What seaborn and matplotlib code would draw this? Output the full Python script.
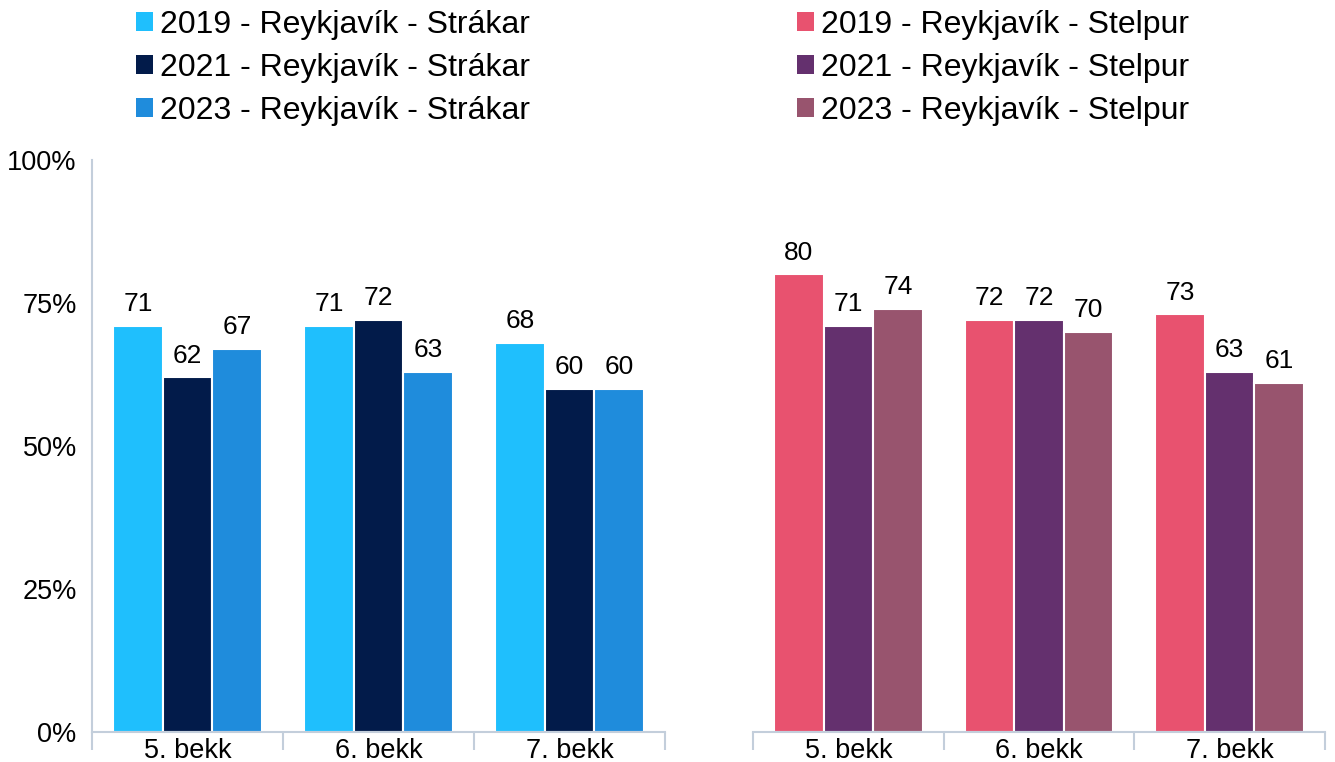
import pandas as pd
import numpy as np
import matplotlib.pyplot as plt
import seaborn as sns
from matplotlib.patches import Patch

bekkir = ['5. bekk', '6. bekk', '7. bekk']
ar = ['2019', '2021', '2023']

strakar_2019 = [71, 71, 68]
strakar_2021 = [62, 72, 60]
strakar_2023 = [67, 63, 60]

stelpur_2019 = [80, 72, 73]
stelpur_2021 = [71, 72, 63]
stelpur_2023 = [74, 70, 61]

litir_strakar = ['#1FBFFD', '#021B4A', '#1F8CDC']
litir_stelpur = ['#E8526F', '#64306E', '#98546E']

sns.set_theme(style='white')
plt.rcParams['font.family'] = ['Liberation Sans', 'DejaVu Sans']
plt.rcParams['text.color'] = 'black'

def long_df(vals):
    rows = []
    for a, v in zip(ar, vals):
        for b, x in zip(bekkir, v):
            rows.append({'bekkur': b, 'ar': a, 'gildi': x})
    return pd.DataFrame(rows)

df_strakar = long_df([strakar_2019, strakar_2021, strakar_2023])
df_stelpur = long_df([stelpur_2019, stelpur_2021, stelpur_2023])

fig = plt.figure(figsize=(13.35, 7.62), dpi=100)
ax1 = fig.add_axes([92 / 1335, 30 / 762, 573 / 1335, 572 / 762])
ax2 = fig.add_axes([753 / 1335, 30 / 762, 572 / 1335, 572 / 762])

gridcol = '#C3CEDB'
fs = 19.5

for ax, df, litir, kyn in [(ax1, df_strakar, litir_strakar, 'Strákar'),
                            (ax2, df_stelpur, litir_stelpur, 'Stelpur')]:
    sns.barplot(data=df, x='bekkur', y='gildi', hue='ar', palette=litir,
                width=0.78, edgecolor='white', linewidth=1.5, legend=False,
                saturation=1, ax=ax, errorbar=None)
    for c in ax.containers:
        ax.bar_label(c, fmt='{:.0f}', padding=7, fontsize=19, color='black')
    ax.set_xlim(-0.5, 2.5)
    ax.set_ylim(0, 100)
    ax.set_xlabel('')
    ax.set_ylabel('')
    ax.set_yticks([0, 25, 50, 75, 100])
    ax.set_yticklabels(['0%', '25%', '50%', '75%', '100%'])
    ax.set_xticks([-0.5, 0.5, 1.5, 2.5], minor=True)
    ax.tick_params(axis='x', which='minor', bottom=True, length=13, width=1.5, color=gridcol)
    ax.tick_params(axis='x', which='major', length=0, pad=4, labelsize=fs, labelcolor='black')
    ax.tick_params(axis='y', length=0, pad=11, labelsize=fs, labelcolor='black')
    for s in ['top', 'right']:
        ax.spines[s].set_visible(False)
    ax.spines['bottom'].set_color(gridcol)
    ax.spines['bottom'].set_linewidth(1.5)
    ax.spines['left'].set_color(gridcol)
    ax.spines['left'].set_linewidth(1.5)

    handles = [Patch(facecolor=c, edgecolor='none') for c in litir]
    labels = [f'{a} - Reykjavík - {kyn}' for a in ar]
    x0 = 117 / 1335 if kyn == 'Strákar' else 778 / 1335
    fig.legend(handles, labels, loc='upper left', bbox_to_anchor=(x0, 1.012),
               frameon=False, fontsize=23, handlelength=0.53, handleheight=0.53,
               handletextpad=0.22, labelspacing=0.4, borderpad=0.1,
               labelcolor='black')

ax2.spines['left'].set_visible(False)
ax2.tick_params(axis='y', labelleft=False)

fig.savefig('out.png', dpi=100)
